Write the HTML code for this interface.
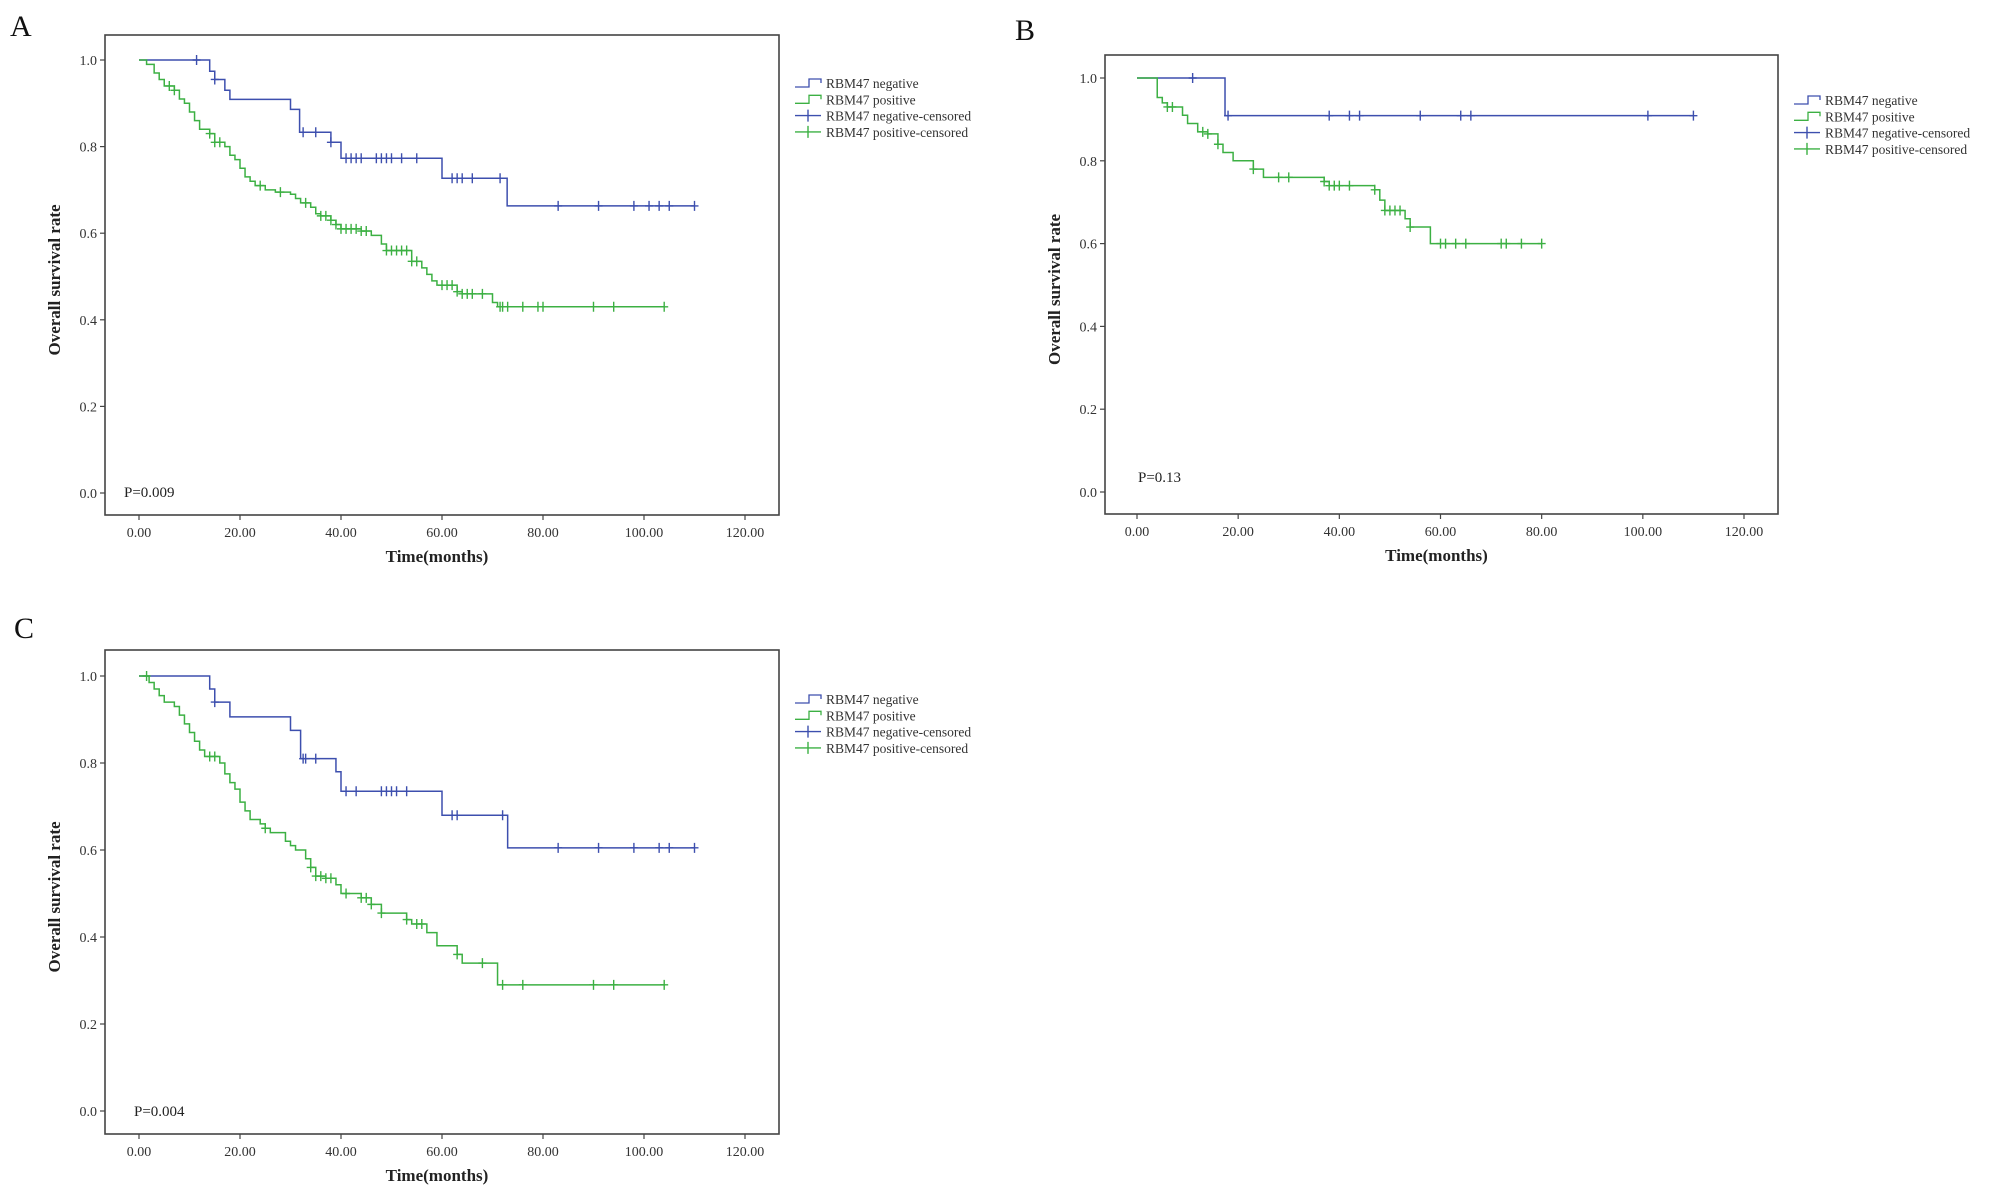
<!DOCTYPE html>
<html><head><meta charset="utf-8">
<style>
html,body{margin:0;padding:0;background:#fff;}
svg{display:block;font-family:"Liberation Serif",serif;}
</style></head>
<body>
<svg id="fig" width="2008" height="1203" viewBox="0 0 2008 1203"></svg>
<script>
// ---------- Panel A data ----------
const aNegT=[0,14,15,17,18,30,31.8,38,40,60,72.9];
const aNegS=[1,0.974,0.955,0.93,0.909,0.886,0.833,0.81,0.773,0.727,0.663];
const aNegEnd=110;
const aNegCens=[11.4,15,32.5,35,38,41,42,43,44,47,48,49,50,52,55,62,63,64,66,71.5,83,91,98,101,103,105,110];
const aPosT=[0,1.5,3,4,5,7,8,9,10,11,12,14,15,17,18,19,20,21,22,23,25,27,30,31,32,34,35,36,38,39,40,44,46,48,49,54,56,57,58,59,63,64,70,71];
const aPosS=[1,0.99,0.97,0.955,0.94,0.93,0.91,0.9,0.88,0.86,0.84,0.83,0.81,0.8,0.78,0.77,0.75,0.73,0.72,0.71,0.7,0.695,0.69,0.68,0.67,0.66,0.645,0.64,0.63,0.62,0.61,0.605,0.595,0.575,0.56,0.535,0.52,0.505,0.49,0.48,0.465,0.46,0.44,0.43];
const aPosEnd=104;
const aPosCens=[6,7,14,15,16,24,28,33,36,37,38,39,40,41,42,43,44,45,49,50,51,52,53,54,55,60,61,62,63,64,65,66,68,71.5,72,73,76,79,80,90,94,104];
// ---------- Panel B data ----------
const bNegT=[0,17.4];
const bNegS=[1,0.909];
const bNegEnd=110;
const bNegCens=[11,18,38,42,44,56,64,66,101,110];
const bPosT=[0,4,5,6,9,10,12,14,16,17,19,23,25,37,38,47,48,49,53,54,58];
const bPosS=[1,0.953,0.94,0.93,0.91,0.89,0.87,0.865,0.84,0.82,0.8,0.78,0.76,0.75,0.74,0.73,0.705,0.68,0.66,0.64,0.6];
const bPosEnd=80;
const bPosCens=[6,7,13,14,16,23,28,30,37,38,39,40,42,47,49,50,51,52,54,60,61,63,65,72,73,76,80];
// ---------- Panel C data ----------
const cNegT=[0,14,15,18,30,32,39,40,60,73];
const cNegS=[1,0.97,0.94,0.906,0.875,0.81,0.78,0.735,0.68,0.605];
const cNegEnd=110;
const cNegCens=[15,32.5,33,35,41,43,48,49,50,51,53,62,63,72,83,91,98,103,105,110];
const cPosT=[0,2,3,4,5,7,8,9,10,11,12,13,16,17,18,19,20,21,22,24,25,26,29,30,31,33,34,35,37,39,40,44,46,48,53,54,57,59,63,64,71];
const cPosS=[1,0.985,0.97,0.955,0.94,0.93,0.91,0.89,0.87,0.85,0.83,0.815,0.8,0.775,0.755,0.74,0.71,0.69,0.67,0.66,0.65,0.64,0.62,0.61,0.6,0.58,0.56,0.54,0.535,0.52,0.5,0.49,0.475,0.455,0.44,0.43,0.41,0.38,0.36,0.34,0.29];
const cPosEnd=104;
const cPosCens=[1.5,14,15,25,34,35,36,37,38,41,44,45,46,48,53,55,56,63,68,72,76,90,94,104];
// ---------- Axis ticks ----------
const xTicks=[0,20,40,60,80,100,120];
const xTickLabels=["0.00","20.00","40.00","60.00","80.00","100.00","120.00"];
const yTicks=[0,0.2,0.4,0.6,0.8,1.0];
const yTickLabels=["0.0","0.2","0.4","0.6","0.8","1.0"];
const legendLabels=["RBM47 negative","RBM47 positive","RBM47 negative-censored","RBM47 positive-censored"];

const NS="http://www.w3.org/2000/svg";
const svg=document.getElementById('fig');
const BLUE="#3d4fae", GREEN="#3cb043";
function mk(tag,attrs,parent){const e=document.createElementNS(NS,tag);for(const k in attrs)e.setAttribute(k,attrs[k]);(parent||svg).appendChild(e);return e;}

const panels=[
 {id:'a',letter:'A',lx:10,ly:36,frame:[105,35,779,515],x0:139,x120:745,y1:60,y0:493,leg:[795,83],p:"P=0.009",px:124,py:497,
  neg:[aNegT,aNegS,aNegEnd,aNegCens],pos:[aPosT,aPosS,aPosEnd,aPosCens]},
 {id:'b',letter:'B',lx:1015,ly:40,frame:[1105,55,1778,514],x0:1137,x120:1744,y1:78,y0:492,leg:[1794,100],p:"P=0.13",px:1138,py:482,
  neg:[bNegT,bNegS,bNegEnd,bNegCens],pos:[bPosT,bPosS,bPosEnd,bPosCens]},
 {id:'c',letter:'C',lx:14,ly:638,frame:[105,650,779,1134],x0:139,x120:745,y1:676,y0:1111,leg:[795,699],p:"P=0.004",px:134,py:1116,
  neg:[cNegT,cNegS,cNegEnd,cNegCens],pos:[cPosT,cPosS,cPosEnd,cPosCens]}
];

function survAt(T,S,t){let v=S[0];for(let i=0;i<T.length;i++){if(T[i]<=t)v=S[i];}return v;}

panels.forEach(p=>{
  const g=mk('g',{});
  
  
  const xs=t=>p.x0+(p.x120-p.x0)*t/120;
  const ys=v=>p.y0-(p.y0-p.y1)*v;
  const L=mk('text',{x:p.lx,y:p.ly,'font-size':30,fill:'#111'},g);L.textContent=p.letter;
  
  const [fx1,fy1,fx2,fy2]=p.frame;
  const fr=mk('rect',{x:fx1,y:fy1,width:fx2-fx1,height:fy2-fy1,fill:'none',stroke:'#444','stroke-width':1.6},g);
  
  // y ticks
  yTicks.forEach((v,i)=>{
    const y=ys(v);
    mk('line',{x1:fx1-5,y1:y,x2:fx1,y2:y,stroke:'#444','stroke-width':1.2},g);
    const t=mk('text',{x:fx1-8,y:y+5,'font-size':14,'text-anchor':'end',fill:'#333'},g);t.textContent=yTickLabels[i];
    
  });
  xTicks.forEach((v,i)=>{
    const x=xs(v);
    mk('line',{x1:x,y1:fy2,x2:x,y2:fy2+5,stroke:'#444','stroke-width':1.2},g);
    const t=mk('text',{x:x,y:fy2+22,'font-size':14,'text-anchor':'middle',fill:'#333'},g);t.textContent=xTickLabels[i];
    
  });
  const xt=mk('text',{x:(fx1+fx2)/2-5,y:fy2+47,'font-size':17,'font-weight':'bold','text-anchor':'middle',fill:'#222'},g);
  xt.textContent='Time(months)';
  const cy=(fy1+fy2)/2+5;
  const yt=mk('text',{x:0,y:0,transform:`translate(${fx1-45},${cy}) rotate(-90)`,'font-size':17,'font-weight':'bold','text-anchor':'middle',fill:'#222'},g);
  yt.textContent='Overall survival rate';
  const pt=mk('text',{x:p.px,y:p.py,'font-size':15,fill:'#222'},g);pt.textContent=p.p;
  
  // curves
  [[p.neg,BLUE,'negative'],[p.pos,GREEN,'positive']].forEach(([d,col,nm])=>{
    const [T,S,end,C]=d;
    let path=`M${xs(T[0])},${ys(S[0])}`;
    for(let i=1;i<T.length;i++){path+=` H${xs(T[i])} V${ys(S[i])}`;}
    path+=` H${xs(end)}`;
    const pe=mk('path',{d:path,fill:'none',stroke:col,'stroke-width':1.5},g);
    
    C.forEach(t=>{
      const x=xs(t),y=ys(survAt(T,S,t));
      const c=mk('path',{d:`M${x-4},${y}H${x+4}M${x},${y-5}V${y+5}`,stroke:col,'stroke-width':1.4},g);
      
    });
  });
  // legend
  const cols=[BLUE,GREEN,BLUE,GREEN];
  legendLabels.forEach((lab,i)=>{
    const lx=p.leg[0], ly=p.leg[1]+i*16.3;
    const lg=mk('g',{},g);
    
    if(i<2){mk('path',{d:`M${lx},${ly+4}H${lx+14}V${ly-4}H${lx+26}V${ly}`,fill:'none',stroke:cols[i],'stroke-width':1.3},lg);}
    else{mk('path',{d:`M${lx},${ly}H${lx+26}M${lx+13},${ly-6}V${ly+6}`,stroke:cols[i],'stroke-width':1.4},lg);}
    const t=mk('text',{x:lx+31,y:ly+5,'font-size':13.5,fill:'#333'},lg);t.textContent=lab;
  });
});
</script>
</body></html>
